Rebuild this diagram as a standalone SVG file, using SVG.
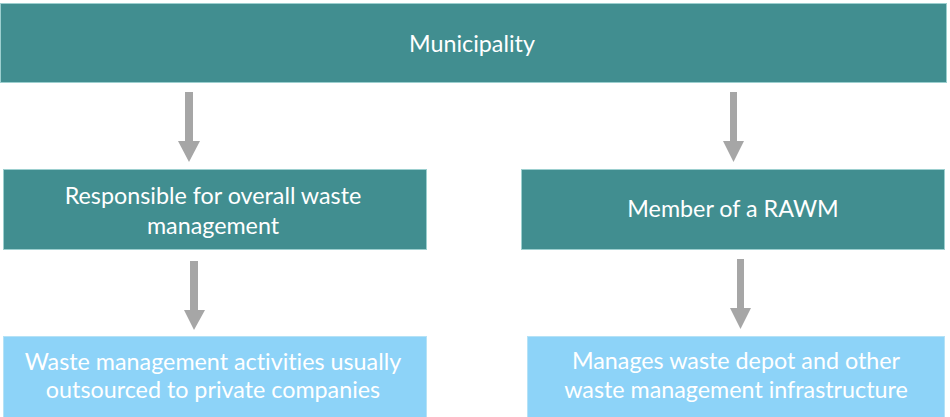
<svg xmlns="http://www.w3.org/2000/svg" width="950" height="417" viewBox="0 0 950 417">
  <style>
    .dark { fill: #418E90; stroke: #9CCFCF; stroke-width: 1; }
    .light { fill: #8DD3F8; stroke: #B5E2F6; stroke-width: 1; }
    .label { font-family: Lato, "Open Sans", "Liberation Sans", sans-serif; font-size: 23.3px; fill: #FFFFFF; text-anchor: middle; font-variant-ligatures: none; }
    .arrow { fill: #A6A6A6; }
  </style>
  <rect width="950" height="417" fill="#FFFFFF"/>

  <g id="municipality">
    <rect class="dark" x="0.5" y="3.5" width="946" height="79"/>
    <text class="label" x="472" y="52">Municipality</text>
  </g>

  <g id="responsible">
    <rect class="dark" x="3.5" y="169.5" width="423" height="80"/>
    <text class="label" x="213" y="204">Responsible for overall waste</text>
    <text class="label" x="213" y="234">management</text>
  </g>

  <g id="rawm-member">
    <rect class="dark" x="521.5" y="169.5" width="423" height="80"/>
    <text class="label" x="733" y="217">Member of a RAWM</text>
  </g>

  <g id="outsourced">
    <rect class="light" x="3.5" y="336.5" width="423" height="82"/>
    <text class="label" x="213" y="370">Waste management activities usually</text>
    <text class="label" x="213" y="398">outsourced to private companies</text>
  </g>

  <g id="depot">
    <rect class="light" x="527.5" y="336.5" width="417" height="82"/>
    <text class="label" x="736" y="369">Manages waste depot and other</text>
    <text class="label" x="736" y="398">waste management infrastructure</text>
  </g>

  <g id="connectors">
    <!-- block arrows: shaft then triangular head -->
    <polygon class="arrow" points="185,92 193,92 193,141 200,141 189,162 178,141 185,141"/>
    <polygon class="arrow" points="730,92 737,92 737,141 744,141 733.5,162 723,141 730,141"/>
    <polygon class="arrow" points="190,261 198,261 198,310 205,310 194,330 184,310 190,310"/>
    <polygon class="arrow" points="737,259 744,259 744,308 751,308 740.5,329 730,308 737,308"/>
  </g>
</svg>
